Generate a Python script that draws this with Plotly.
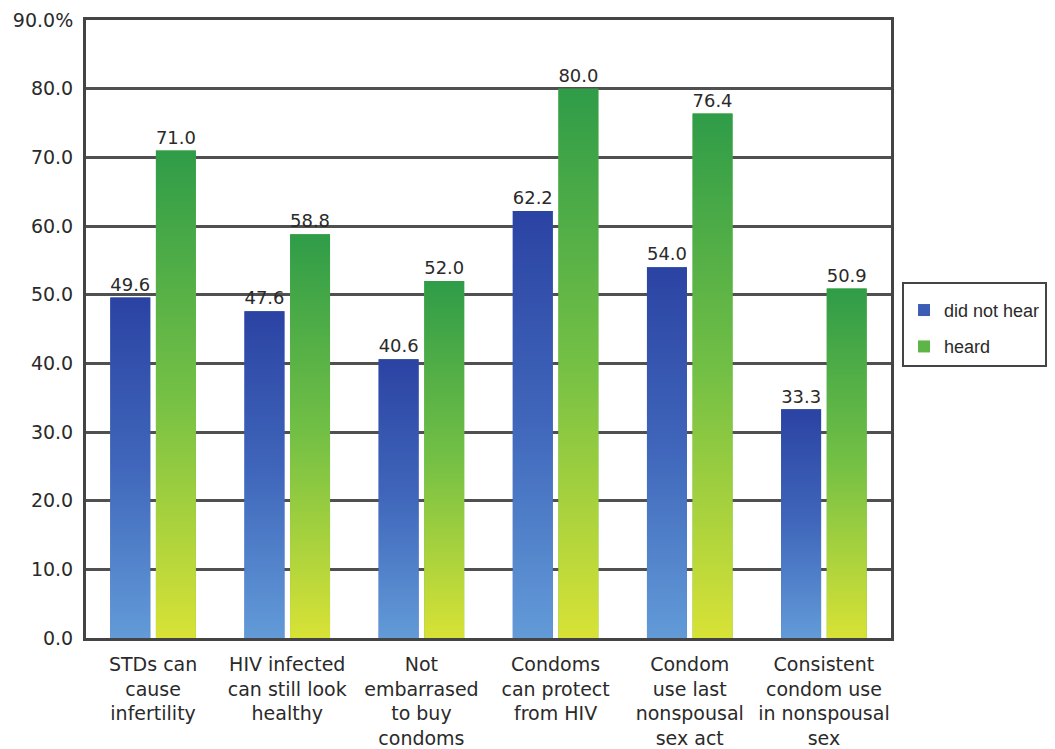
import plotly.graph_objects as go

categories = [
    "STDs can<br>cause<br>infertility",
    "HIV infected<br>can still look<br>healthy",
    "Not<br>embarrased<br>to buy<br>condoms",
    "Condoms<br>can protect<br>from HIV",
    "Condom<br>use last<br>nonspousal<br>sex act",
    "Consistent<br>condom use<br>in nonspousal<br>sex",
]
did_not_hear = [49.6, 47.6, 40.6, 62.2, 54.0, 33.3]
heard = [71.0, 58.8, 52.0, 80.0, 76.4, 50.9]
series_names = ["did not hear", "heard"]
y_tickvals = [0, 10, 20, 30, 40, 50, 60, 70, 80, 90]
y_ticktext = ["0.0", "10.0", "20.0", "30.0", "40.0", "50.0", "60.0", "70.0", "80.0", "90.0%"]

# style
FONT = "DejaVu Sans, Liberation Sans, Arial, sans-serif"
LEGFONT = "Liberation Sans, Arial, sans-serif"
TXT = "#2a2a2a"
GRID = "#505050"
BARGAP = 0.32
GROUPGAP = 0.124
slot = (1 - BARGAP) / 2
bar_w = slot * (1 - GROUPGAP)

legend_colors = ["#3C5DB6", "#5DB547"]
gradients = [
    [[0, "#629BD8"], [0.5, "#4067BB"], [1, "#2B43A3"]],
    [[0, "#D8E236"], [0.5, "#74C045"], [1, "#2F9C48"]],
]

fig = go.Figure()
xs = list(range(len(categories)))
for k, (name, vals) in enumerate(zip(series_names, [did_not_hear, heard])):
    center_off = (k - 0.5) * slot
    fig.add_trace(go.Bar(
        x=xs, y=vals, name=name,
        width=bar_w, offset=center_off - bar_w / 2,
        marker=dict(color=legend_colors[k], line=dict(width=0)),
        texttemplate="%{y:.1f}", textposition="outside",
        textfont=dict(family=FONT, size=19, color=TXT),
        cliponaxis=False, legendgroup=name,
    ))
    # gradient overlays computed from the data values
    for i, v in zip(xs, vals):
        x0 = i + center_off - bar_w / 2
        x1 = i + center_off + bar_w / 2
        fig.add_trace(go.Scatter(
            x=[x0, x1, x1, x0, x0], y=[0, 0, v, v, 0],
            mode="lines", fill="toself", line=dict(width=0),
            fillgradient=dict(type="vertical", colorscale=gradients[k], start=0, stop=v),
            showlegend=False, hoverinfo="skip",
        ))

fig.update_layout(
    width=1047, height=741,
    margin=dict(l=78, r=164, t=12, b=111, autoexpand=False),
    paper_bgcolor="white", plot_bgcolor="white",
    barmode="overlay",
    font=dict(family=FONT, size=19, color=TXT),
    showlegend=True,
    legend=dict(
        x=1.0137, y=0.576, xanchor="left", yanchor="top",
        bordercolor="#444444", borderwidth=2, bgcolor="white",
        font=dict(family=LEGFONT, size=18, color=TXT),
        traceorder="grouped", tracegroupgap=10,
        title=dict(text=" ", font=dict(size=6)),
    ),
)
fig.update_xaxes(
    range=[-0.5, len(categories) - 0.5],
    tickvals=xs, ticktext=categories,
    tickfont=dict(family=FONT, size=19, color=TXT),
    showgrid=False, zeroline=False,
    showline=True, mirror=True, linecolor="#444444", linewidth=3,
    ticks="", ticklabelstandoff=7,
)
fig.update_yaxes(
    range=[0, 90], tickvals=y_tickvals, ticktext=y_ticktext,
    tickfont=dict(family=FONT, size=19, color=TXT),
    showgrid=True, gridcolor=GRID, gridwidth=2.5, zeroline=False,
    showline=True, mirror=True, linecolor="#444444", linewidth=3,
    ticks="", ticklabelstandoff=6,
)

fig.write_html("out.html")
